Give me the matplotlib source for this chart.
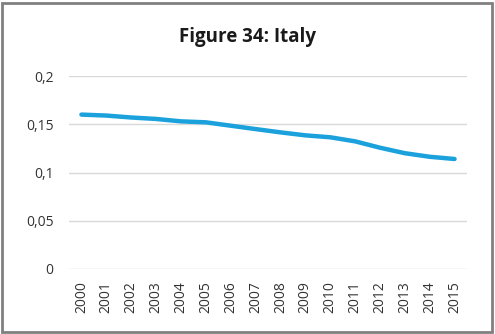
import matplotlib
matplotlib.use("Agg")
import matplotlib.pyplot as plt
from matplotlib.patches import Rectangle

years = [str(y) for y in range(2000, 2016)]
values = [0.160, 0.159, 0.157, 0.1555, 0.153, 0.152, 0.1485, 0.145,
          0.1416, 0.1385, 0.1365, 0.1323, 0.1257, 0.120, 0.1163, 0.114]
yticks = [0, 0.05, 0.1, 0.15, 0.2]
ytick_labels = ["0", "0,05", "0,1", "0,15", "0,2"]
title = "Figure 34: Italy"

plt.rcParams['font.family'] = ['Open Sans', 'DejaVu Sans']

fig = plt.figure(figsize=(4.95, 3.34), dpi=100)
ax = fig.add_axes([69/495, 1-269/334, (467-69)/495, (269-76)/334])

x = list(range(len(years)))
ax.plot(x, values, color='#1BA1DC', linewidth=3.2, solid_capstyle='round',
        solid_joinstyle='round', zorder=3)

ax.set_xlim(-0.5, len(years)-0.5)
ax.set_ylim(0, 0.2)
ax.set_yticks(yticks)
ax.set_yticklabels(ytick_labels)
ax.set_xticks(x)
ax.set_xticklabels(years, rotation=90)
ax.grid(axis='y', color='#D9D9D9', linewidth=1)
ax.set_axisbelow(True)
for s in ax.spines.values():
    s.set_visible(False)
ax.tick_params(axis='both', length=0, colors='#333333', labelsize=10)
ax.tick_params(axis='y', pad=11)
ax.tick_params(axis='x', pad=9)

fig.text(0.5, 1-37/334, title, ha='center', va='center', fontsize=13.5,
         fontweight='bold', color='#1a1a1a')

fig.patches.append(Rectangle((1.5/495, 2.5/334), (492-1.5)/495, (331-2.5)/334,
                             transform=fig.transFigure, fill=False,
                             edgecolor='#808080', linewidth=2))

fig.savefig("out.png", dpi=100)
